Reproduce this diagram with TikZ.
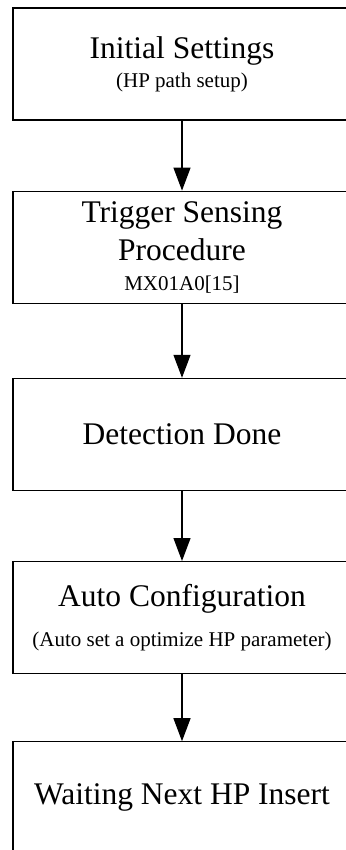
\documentclass[tikz,border=0pt]{standalone}
\usepackage{fontspec}
\setmainfont{Liberation Serif}
\usetikzlibrary{arrows.meta,positioning}

\begin{document}
\begin{tikzpicture}[
  proc/.style={draw, line width=1.2pt, align=center, minimum width=338pt, minimum height=112pt, inner sep=0pt, font=\fontsize{31.5}{38}\selectfont},
  arr/.style={-{Triangle[length=23pt, width=17pt]}, line width=1.2pt}
]
  \useasboundingbox (0,0) rectangle (345pt,-850pt);
  \node[proc] (a) at (182pt,-64pt) {Initial Settings\\[-9pt]{\fontsize{21}{25}\selectfont (HP path setup)}};
  \node[proc, below=70pt of a] (b) {Trigger Sensing\\Procedure\\[-8pt]{\fontsize{21}{25}\selectfont MX01A0[15]}};
  \node[proc, below=74pt of b] (c) {Detection Done};
  \node[proc, below=70pt of c] (d) {Auto Configuration\\[2pt]{\fontsize{21}{25}\selectfont (Auto set a optimize HP parameter)}};
  \node[proc, below=67pt of d] (e) {Waiting Next HP Insert};

  \draw[arr] (a) -- (b);
  \draw[arr] (b) -- (c);
  \draw[arr] (c) -- (d);
  \draw[arr] (d) -- (e);
\end{tikzpicture}
\end{document}
